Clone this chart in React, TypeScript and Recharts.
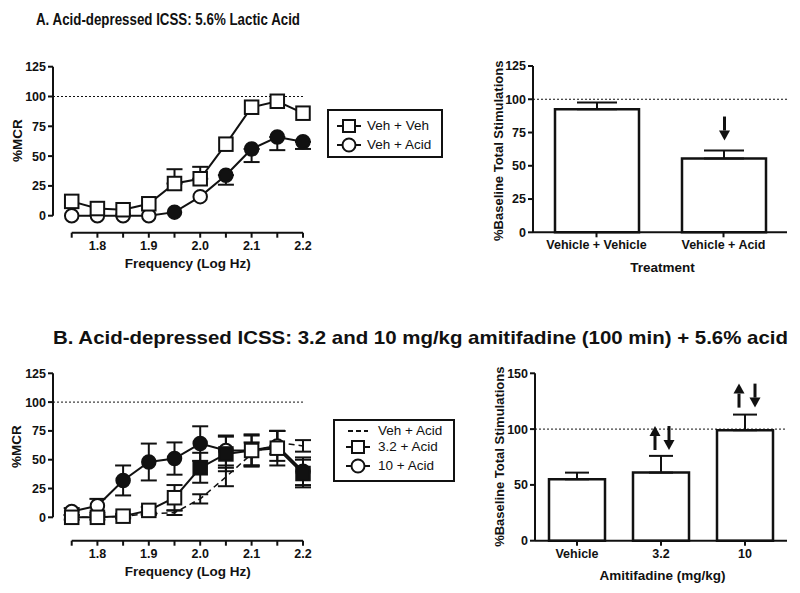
import React from 'react';
import {
  LineChart, Line, XAxis, YAxis, ReferenceLine, ErrorBar, BarChart, Bar, Legend, ReferenceDot,
} from 'recharts';

const W = 800;
const H = 593;
const FONT = '"Liberation Sans", Arial, Helvetica, sans-serif';
const INK = '#111';

// ---------- data ----------
const freq = [1.75, 1.8, 1.85, 1.9, 1.95, 2.0, 2.05, 2.1, 2.15, 2.2];
const freqTickLabels = ['', '1.8', '', '1.9', '', '2.0', '', '2.1', '', '2.2'];
const mcrTicks = [0, 25, 50, 75, 100, 125];

// Panel A (frequency-rate)
const aVehVeh = [12, 6, 5, 10, 27, 31, 60, 91, 96, 86];
const aVehVehErr = [0, 0, 0, 0, 12, 10, 0, 0, 0, 0];
const aVehVehSig = [0, 0, 0, 0, 0, 0, 0, 0, 0, 0];
const aVehAcid = [0, 0, 0, 0, 3, 16, 34, 56, 66, 62];
const aVehAcidErr = [0, 0, 0, 0, 0, 0, 8, 11, 11, 6];
const aVehAcidSig = [0, 0, 0, 0, 1, 0, 1, 1, 1, 1];

// Panel B (frequency-rate)
const bVehAcid = [0, 0, 1, 3, 4, 16, 35, 55, 65, 62];
const bVehAcidErr = [0, 0, 1, 1, 2, 4, 8, 10, 10, 5];
const b32Acid = [0, 0, 1, 6, 17, 43, 55, 58, 60, 38];
const b32AcidErr = [2, 2, 2, 3, 11, 13, 15, 13, 15, 12];
const b32AcidSig = [0, 0, 0, 0, 0, 1, 1, 0, 0, 1];
const b10Acid = [5, 10, 32, 48, 51, 64, 58, 58, 62, 40];
const b10AcidErr = [3, 6, 13, 16, 14, 15, 13, 14, 13, 12];
const b10AcidSig = [0, 0, 1, 1, 1, 1, 0, 0, 0, 1];

// Bar panels
const aBarCats = ['Vehicle + Vehicle', 'Vehicle + Acid'];
const aBarVals = [92.5, 55.5];
const aBarErr = [5, 6];
const aBarTicks = [0, 25, 50, 75, 100, 125];

const bBarCats = ['Vehicle', '3.2', '10'];
const bBarVals = [55, 61, 99];
const bBarErr = [6, 15, 14];
const bBarTicks = [0, 50, 100, 150];

// ---------- tables ----------
const nz = (v: number, arr: [number, number]) => (v ? arr : null);

const dataA = freq.map((x, i) => ({
  x,
  vv: aVehVeh[i],
  vvErr: nz(aVehVehErr[i], [0, aVehVehErr[i]]),
  vvSig: aVehVehSig[i],
  va: aVehAcid[i],
  vaErr: nz(aVehAcidErr[i], [aVehAcidErr[i], 0]),
  vaSig: aVehAcidSig[i],
}));

const dataB = freq.map((x, i) => ({
  x,
  veh: bVehAcid[i],
  vehErr: bVehAcidErr[i] || null,
  d32: b32Acid[i],
  d32Err: b32AcidErr[i],
  d32Sig: b32AcidSig[i],
  d10: b10Acid[i],
  d10Err: b10AcidErr[i],
  d10Sig: b10AcidSig[i],
}));

const barA = aBarCats.map((c, i) => ({ c, v: aBarVals[i], err: [0, aBarErr[i]] }));
const barB = bBarCats.map((c, i) => ({ c, v: bBarVals[i], err: [0, bBarErr[i]] }));

// ---------- geometry ----------
const X_MIN = 1.7136;
const X_MAX = 2.2;
const YA_MIN = -14.26;
const YB_MIN = -20.3;

const tickStyle = { fontFamily: FONT, fontSize: 12.5, fontWeight: 700, fill: INK };

// ---------- helpers ----------
const Marker = ({ cx, cy, shape, filled, size = 13.5 }: any) => {
  if (cx == null || cy == null) return <g />;
  const fill = filled ? INK : '#fff';
  if (shape === 'square') {
    return (
      <rect x={cx - size / 2} y={cy - size / 2} width={size} height={size}
        fill={fill} stroke={INK} strokeWidth={2} />
    );
  }
  return <circle cx={cx} cy={cy} r={size / 2} fill={fill} stroke={INK} strokeWidth={2} />;
};

const dotFn = (shape: string, sigKey: string, prefix: string) => (p: any) => (
  <Marker key={`${prefix}-${p.index}`} cx={p.cx} cy={p.cy} shape={shape} filled={!!p.payload[sigKey]} />
);

const arrowPath = (x: number, yTail: number, yHead: number) => {
  const dir = yHead > yTail ? 1 : -1;
  const headLen = 10;
  const baseY = yHead - dir * headLen;
  return (
    <g>
      <line x1={x} y1={yTail} x2={x} y2={baseY} stroke={INK} strokeWidth={3} />
      <polygon points={`${x - 5.5},${baseY} ${x + 5.5},${baseY} ${x},${yHead}`} fill={INK} />
    </g>
  );
};

const ArrowShape = (dirs: string[], offsets: number[]) => (p: any) => {
  const { cx, cy } = p;
  return (
    <g>
      {dirs.map((d, i) => (
        <g key={i}>
          {d === 'down'
            ? arrowPath(cx + offsets[i], cy - 12, cy + 12)
            : arrowPath(cx + offsets[i], cy + 12, cy - 12)}
        </g>
      ))}
    </g>
  );
};

const LegendSym = ({ kind }: any) => {
  if (kind === 'dash') {
    return (
      <svg width={24} height={16} style={{ display: 'block' }}>
        <line x1={2} y1={8} x2={22} y2={8} stroke={INK} strokeWidth={2} strokeDasharray="5 3" />
      </svg>
    );
  }
  return (
    <svg width={24} height={16} style={{ display: 'block' }}>
      <line x1={0} y1={8} x2={24} y2={8} stroke={INK} strokeWidth={2} />
      {kind === 'square'
        ? <rect x={6} y={2} width={12} height={12} fill="#fff" stroke={INK} strokeWidth={2} />
        : <circle cx={12} cy={8} r={6.5} fill="#fff" stroke={INK} strokeWidth={2} />}
    </svg>
  );
};

const LegendBox = ({ w, h, rows, symX, textX }: any) => (
  <div style={{
    position: 'relative', width: w, height: h, boxSizing: 'border-box',
    border: `2px solid ${INK}`, background: '#fff', fontFamily: FONT, fontSize: 13.5, color: INK,
  }}>
    {rows.map((r: any, i: number) => (
      <div key={i}>
        <div style={{ position: 'absolute', left: symX - 2 - 12, top: r.y - 2 - 8 }}>
          <LegendSym kind={r.kind} />
        </div>
        <div style={{ position: 'absolute', left: textX - 2, top: r.y - 2 - 8, lineHeight: '16px', whiteSpace: 'nowrap' }}>
          {r.label}
        </div>
      </div>
    ))}
  </div>
);

const layer: React.CSSProperties = { position: 'absolute', left: 0, top: 0 };

export default function App() {
  return (
    <div style={{ position: 'absolute', left: 0, top: 0, width: W, height: H, background: '#fff', overflow: 'hidden' }}>
      {/* Panel A: frequency-rate curves */}
      <div style={layer}>
        <LineChart width={W} height={H} data={dataA}
          margin={{ left: 53 - 40, top: 66.7, right: W - 303, bottom: H - 232.7 - 30 }}>
          <XAxis type="number" dataKey="x" domain={[X_MIN, X_MAX]} ticks={freq}
            interval={0} height={30} axisLine={false} tickSize={5} tickMargin={3}
            tickLine={{ stroke: INK, strokeWidth: 2 }} tick={tickStyle}
            tickFormatter={(v: number, i: number) => freqTickLabels[i] ?? ''} />
          <YAxis type="number" domain={[YA_MIN, 125]} ticks={mcrTicks} interval={0}
            width={40} axisLine={false} tickSize={5} tickMargin={2}
            tickLine={{ stroke: INK, strokeWidth: 2 }} tick={tickStyle} />
          <ReferenceLine segment={[{ x: X_MIN, y: 0 }, { x: X_MIN, y: 125 }]} stroke={INK} strokeWidth={2} ifOverflow="visible" />
          <ReferenceLine segment={[{ x: 1.75, y: YA_MIN }, { x: 2.2, y: YA_MIN }]} stroke={INK} strokeWidth={2} ifOverflow="visible" />
          <ReferenceLine y={100} stroke={INK} strokeWidth={1} strokeDasharray="2 2" />
          <Line dataKey="va" stroke={INK} strokeWidth={2} isAnimationActive={false}
            dot={dotFn('circle', 'vaSig', 'va')} activeDot={false}>
            <ErrorBar dataKey="vaErr" direction="y" width={8} stroke={INK} strokeWidth={2} />
          </Line>
          <Line dataKey="vv" stroke={INK} strokeWidth={2} isAnimationActive={false}
            dot={dotFn('square', 'vvSig', 'vv')} activeDot={false}>
            <ErrorBar dataKey="vvErr" direction="y" width={8} stroke={INK} strokeWidth={2} />
          </Line>
          <Legend layout="horizontal" verticalAlign="middle" align="center"
            wrapperStyle={{ left: 327, top: 109, width: 116, height: 49 }}
            content={() => (
              <LegendBox w={116} h={49} symX={22} textX={40}
                rows={[{ y: 17, kind: 'square', label: 'Veh + Veh' }, { y: 36, kind: 'circle', label: 'Veh + Acid' }]} />
            )} />
        </LineChart>
      </div>

      {/* Panel A: bar chart */}
      <div style={layer}>
        <BarChart width={W} height={H} data={barA}
          margin={{ left: 533 - 40, top: 66, right: W - 787, bottom: H - 232.3 - 30 }}>
          <XAxis dataKey="c" type="category" height={30} interval={0} tickSize={5} tickMargin={3}
            axisLine={{ stroke: INK, strokeWidth: 2 }} tickLine={{ stroke: INK, strokeWidth: 2 }} tick={tickStyle} />
          <YAxis type="number" domain={[0, 125]} ticks={aBarTicks} interval={0} width={40}
            tickSize={5} tickMargin={2} axisLine={{ stroke: INK, strokeWidth: 2 }}
            tickLine={{ stroke: INK, strokeWidth: 2 }} tick={tickStyle} />
          <ReferenceLine y={100} stroke={INK} strokeWidth={1} strokeDasharray="2 2" />
          <Bar dataKey="v" fill="#fff" stroke={INK} strokeWidth={2.5} barSize={84} isAnimationActive={false}>
            <ErrorBar dataKey="err" direction="y" width={20} stroke={INK} strokeWidth={2} />
          </Bar>
          <ReferenceDot x="Vehicle + Acid" y={78} r={0} ifOverflow="visible"
            shape={ArrowShape(['down'], [1])} />
        </BarChart>
      </div>

      {/* Panel B: frequency-rate curves */}
      <div style={layer}>
        <LineChart width={W} height={H} data={dataB}
          margin={{ left: 53 - 40, top: 373.3, right: W - 303, bottom: H - 540.7 - 30 }}>
          <XAxis type="number" dataKey="x" domain={[X_MIN, X_MAX]} ticks={freq}
            interval={0} height={30} axisLine={false} tickSize={5} tickMargin={3}
            tickLine={{ stroke: INK, strokeWidth: 2 }} tick={tickStyle}
            tickFormatter={(v: number, i: number) => freqTickLabels[i] ?? ''} />
          <YAxis type="number" domain={[YB_MIN, 125]} ticks={mcrTicks} interval={0}
            width={40} axisLine={false} tickSize={5} tickMargin={2}
            tickLine={{ stroke: INK, strokeWidth: 2 }} tick={tickStyle} />
          <ReferenceLine segment={[{ x: X_MIN, y: 0 }, { x: X_MIN, y: 125 }]} stroke={INK} strokeWidth={2} ifOverflow="visible" />
          <ReferenceLine segment={[{ x: 1.75, y: YB_MIN }, { x: 2.2, y: YB_MIN }]} stroke={INK} strokeWidth={2} ifOverflow="visible" />
          <ReferenceLine y={100} stroke={INK} strokeWidth={1} strokeDasharray="2 2" />
          <Line dataKey="veh" stroke={INK} strokeWidth={1.5} strokeDasharray="6 4" isAnimationActive={false}
            dot={false} activeDot={false}>
            <ErrorBar dataKey="vehErr" direction="y" width={8} stroke={INK} strokeWidth={2} />
          </Line>
          <Line dataKey="d10" stroke={INK} strokeWidth={2} isAnimationActive={false}
            dot={dotFn('circle', 'd10Sig', 'd10')} activeDot={false}>
            <ErrorBar dataKey="d10Err" direction="y" width={8} stroke={INK} strokeWidth={2} />
          </Line>
          <Line dataKey="d32" stroke={INK} strokeWidth={2} isAnimationActive={false}
            dot={dotFn('square', 'd32Sig', 'd32')} activeDot={false}>
            <ErrorBar dataKey="d32Err" direction="y" width={8} stroke={INK} strokeWidth={2} />
          </Line>
          <Legend layout="horizontal" verticalAlign="middle" align="center"
            wrapperStyle={{ left: 333, top: 419, width: 122, height: 63 }}
            content={() => (
              <LegendBox w={122} h={63} symX={25} textX={45}
                rows={[
                  { y: 12, kind: 'dash', label: 'Veh + Acid' },
                  { y: 28, kind: 'square', label: '3.2 + Acid' },
                  { y: 47, kind: 'circle', label: '10 + Acid' },
                ]} />
            )} />
        </LineChart>
      </div>

      {/* Panel B: bar chart */}
      <div style={layer}>
        <BarChart width={W} height={H} data={barB}
          margin={{ left: 535 - 40, top: 373.3, right: W - 787, bottom: H - 540.7 - 30 }}>
          <XAxis dataKey="c" type="category" height={30} interval={0} tickSize={5} tickMargin={3}
            axisLine={{ stroke: INK, strokeWidth: 2 }} tickLine={{ stroke: INK, strokeWidth: 2 }} tick={tickStyle} />
          <YAxis type="number" domain={[0, 150]} ticks={bBarTicks} interval={0} width={40}
            tickSize={5} tickMargin={2} axisLine={{ stroke: INK, strokeWidth: 2 }}
            tickLine={{ stroke: INK, strokeWidth: 2 }} tick={tickStyle} />
          <ReferenceLine y={100} stroke={INK} strokeWidth={1} strokeDasharray="2 2" />
          <Bar dataKey="v" fill="#fff" stroke={INK} strokeWidth={2.5} barSize={56} isAnimationActive={false}>
            <ErrorBar dataKey="err" direction="y" width={12} stroke={INK} strokeWidth={2} />
          </Bar>
          <ReferenceDot x="3.2" y={92} r={0} ifOverflow="visible" shape={ArrowShape(['up', 'down'], [-6, 8])} />
          <ReferenceDot x="10" y={130} r={0} ifOverflow="visible" shape={ArrowShape(['up', 'down'], [-6, 10])} />
        </BarChart>
      </div>

      {/* Titles and axis titles */}
      <svg width={W} height={H} style={{ position: 'absolute', left: 0, top: 0, pointerEvents: 'none' }}
        fontFamily={FONT} fill={INK}>
        <text x={36} y={25} fontSize={17} fontWeight={700} textLength={264} lengthAdjust="spacingAndGlyphs">
          A. Acid-depressed ICSS: 5.6% Lactic Acid
        </text>
        <text x={53} y={344} fontSize={18.5} fontWeight={700} textLength={735} lengthAdjust="spacingAndGlyphs">
          B. Acid-depressed ICSS: 3.2 and 10 mg/kg amitifadine (100 min) + 5.6% acid
        </text>

        <text transform="translate(17,140.7) rotate(-90)" textAnchor="middle" dominantBaseline="central" fontSize={13.5} fontWeight={700}>%MCR</text>
        <text x={187.7} y={263.3} textAnchor="middle" dominantBaseline="central" fontSize={13.5} fontWeight={700}>Frequency (Log Hz)</text>

        <text transform="translate(498,150.8) rotate(-90)" textAnchor="middle" dominantBaseline="central" fontSize={13} fontWeight={700}>%Baseline Total Stimulations</text>
        <text x={662.5} y={267} textAnchor="middle" dominantBaseline="central" fontSize={13.5} fontWeight={700}>Treatment</text>

        <text transform="translate(16,446.7) rotate(-90)" textAnchor="middle" dominantBaseline="central" fontSize={13.5} fontWeight={700}>%MCR</text>
        <text x={187.7} y={571.7} textAnchor="middle" dominantBaseline="central" fontSize={13.5} fontWeight={700}>Frequency (Log Hz)</text>

        <text transform="translate(499,456.7) rotate(-90)" textAnchor="middle" dominantBaseline="central" fontSize={13} fontWeight={700}>%Baseline Total Stimulations</text>
        <text x={662.5} y={575.7} textAnchor="middle" dominantBaseline="central" fontSize={13.5} fontWeight={700}>Amitifadine (mg/kg)</text>
      </svg>
    </div>
  );
}
